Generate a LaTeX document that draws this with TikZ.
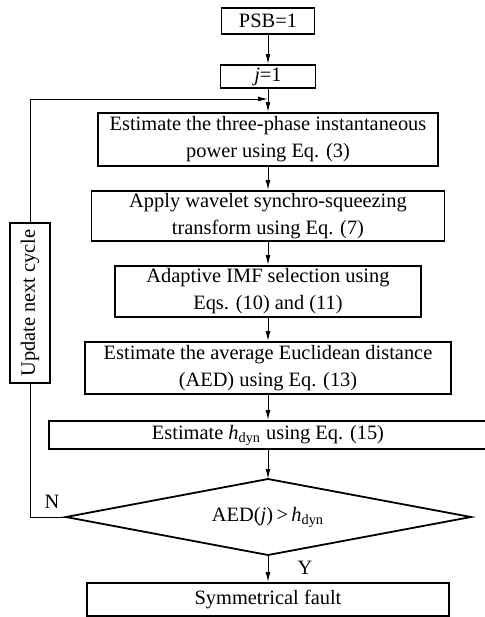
\documentclass[tikz,border=0pt]{standalone}
\usepackage{fontspec}
\setmainfont{Liberation Serif}
\usetikzlibrary{arrows.meta}

\begin{document}
\begin{tikzpicture}[x=0.5pt, y=-0.5pt,
  font=\fontsize{10.2}{13.5}\selectfont,
  stepbox/.style={draw, line width=0.9pt, align=center, inner sep=0pt},
  arr/.style={-{Latex[length=5pt,width=2.4pt]}, line width=0.5pt}]

\useasboundingbox (0,0) rectangle (484,617);

% main column
\node[stepbox, minimum width=46.5pt, minimum height=13pt] (psb) at (268,21) {PSB=1};
\node[stepbox, minimum width=47.5pt, minimum height=11.5pt] (j1) at (268,76.5) {\textit{j}=1};
\node[stepbox, minimum width=170pt, minimum height=26.5pt] (b1) at (268,139.5)
  {Estimate the three-phase instantaneous\\power using Eq. (3)};
\node[stepbox, minimum width=176.5pt, minimum height=25pt] (b2) at (268,216)
  {Apply wavelet synchro-squeezing\\transform using Eq. (7)};
\node[stepbox, minimum width=153pt, minimum height=25.5pt] (b3) at (268,291.5)
  {Adaptive IMF selection using\\Eqs. (10) and (11)};
\node[stepbox, minimum width=183pt, minimum height=26pt] (b4) at (268,368)
  {Estimate the average Euclidean distance\\(AED) using Eq. (13)};
\node[stepbox, minimum width=219pt, minimum height=14pt] (b5) at (268,435)
  {Estimate \textit{h}\textsubscript{dyn} using Eq. (15)};

% decision
\coordinate (dtop) at (268,479);
\coordinate (dbot) at (268,555);
\coordinate (dleft) at (66,517);
\coordinate (dright) at (471,517);
\draw[line width=0.9pt] (dtop) -- (dright) -- (dbot) -- (dleft) -- cycle;
\node (dia) at (268,517) {AED(\textit{j})\,>\,\textit{h}\textsubscript{dyn}};

\node[stepbox, minimum width=181pt, minimum height=16.5pt] (fault) at (268,599.5) {Symmetrical fault};

% loop back
\node[stepbox, rotate=90, minimum width=80pt, minimum height=20pt] (upd) at (30,303) {Update next cycle};
\coordinate (loopin) at (268,99);

\node (nlab) at (52,502) {N};
\node (ylab) at (305,568) {Y};

\draw[arr] (psb) -- (j1);
\draw[arr] (j1) -- (b1);
\draw[arr] (b1) -- (b2);
\draw[arr] (b2) -- (b3);
\draw[arr] (b3) -- (b4);
\draw[arr] (b4) -- (b5);
\draw[arr] (b5) -- (dtop);
\draw[arr] (dbot) -- (fault);
\draw[line width=0.5pt] (dleft) -| (upd.west);
\draw[arr] (upd.east) |- (loopin);

\end{tikzpicture}
\end{document}
